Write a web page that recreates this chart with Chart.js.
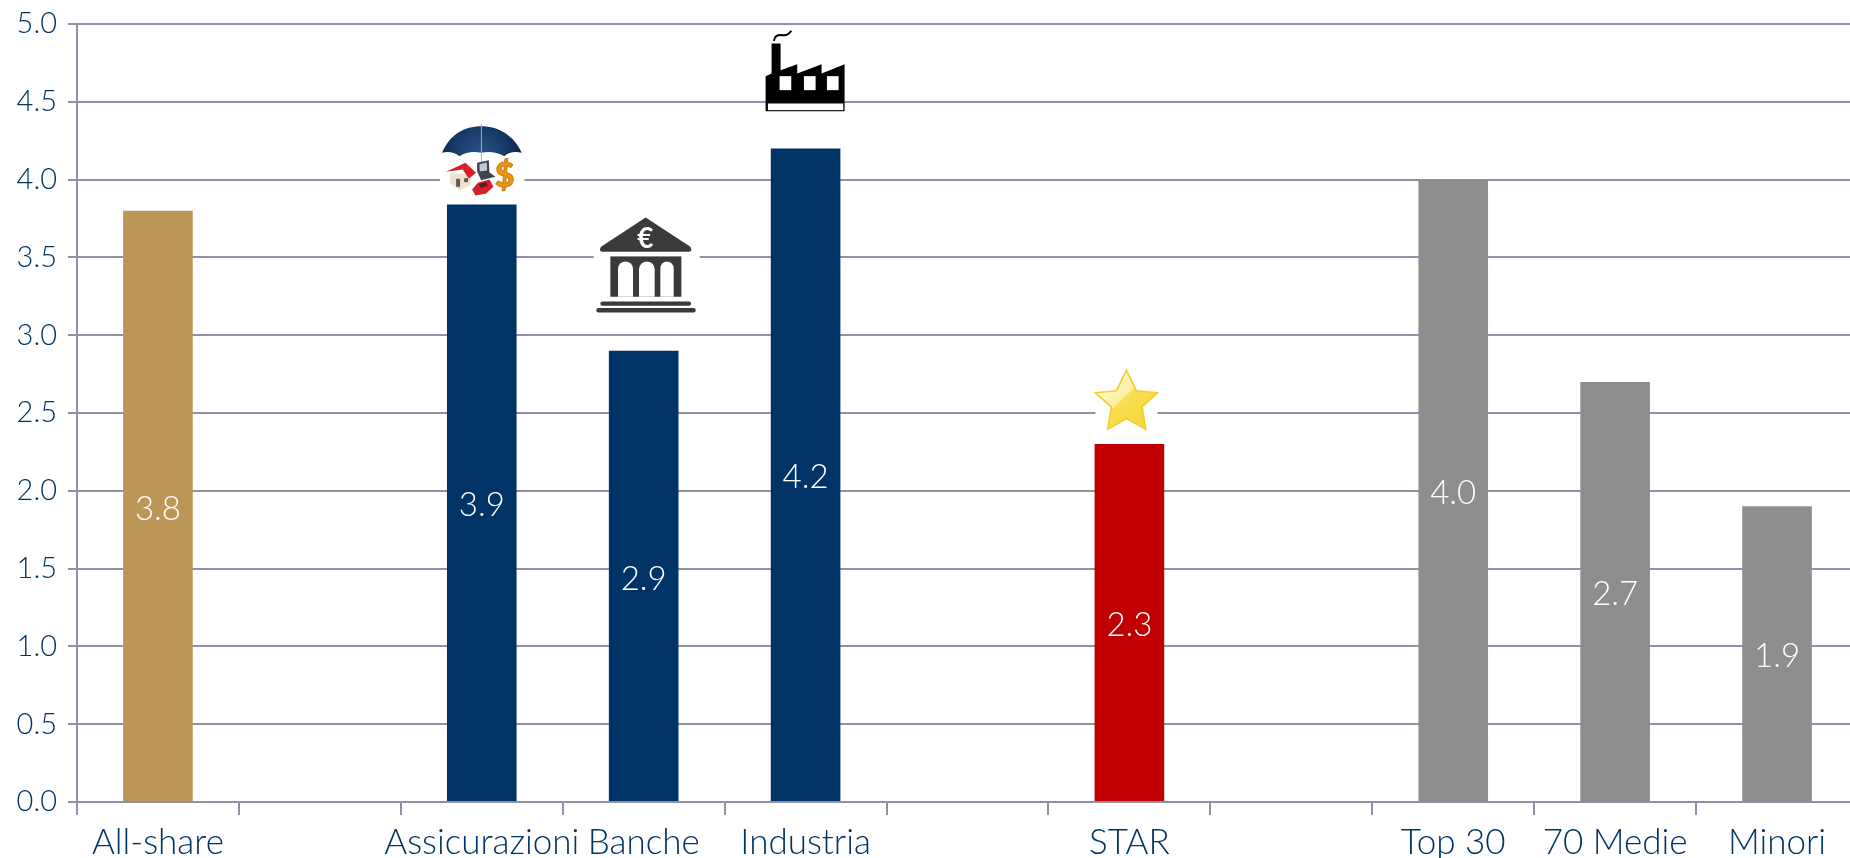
<!DOCTYPE html>
<html><head><meta charset="utf-8">
<style>html,body{margin:0;padding:0;background:#fff;overflow:hidden;width:1850px;height:858px}canvas{display:block}</style>
<script src="https://cdn.jsdelivr.net/npm/chart.js@4"></script>
</head><body><canvas id="c" width="1858" height="858" style="width:1858px;height:858px"></canvas>
<script>
const categories=['All-share','','Assicurazioni','Banche','Industria','','STAR','','Top 30','70 Medie','Minori'];
const values=[3.8,null,3.84,2.9,4.2,null,2.3,null,4.0,2.7,1.9];
const valueLabels=['3.8','','3.9','2.9','4.2','','2.3','','4.0','2.7','1.9'];
const barColors=['#BB9656','','#003366','#003366','#003366','','#C00000','','#8E8E8E','#8E8E8E','#8E8E8E'];
const icons={2:'umbrella',3:'bank',4:'factory',6:'star'};
const FONT='Lato, "Open Sans", sans-serif', TXT='#003366', GRID='#8F91A8';

function poly(c,p){c.beginPath();p.forEach((q,i)=>i?c.lineTo(q[0],q[1]):c.moveTo(q[0],q[1]));c.closePath();c.fill();}
const draw={
 umbrella(c){c.fillStyle='#fff';c.fillRect(12,3,253,238);
  const g=c.createRadialGradient(130,110,10,130,90,130);g.addColorStop(0,'#2A5285');g.addColorStop(.55,'#173A68');g.addColorStop(1,'#0C2547');
  c.fillStyle=g;c.beginPath();c.moveTo(18,100);c.bezierCurveTo(40,45,85,20,135,20);c.bezierCurveTo(190,20,235,50,257,100);
  c.quadraticCurveTo(225,92,205,110);c.quadraticCurveTo(170,92,135,100);c.quadraticCurveTo(100,92,70,110);c.quadraticCurveTo(45,92,18,100);c.fill();
  c.strokeStyle='#A9AEB5';c.lineWidth=3;c.beginPath();c.moveTo(136,15);c.lineTo(136,135);c.stroke();
  c.fillStyle='#3E454C';poly(c,[[123,130],[158,122],[160,158],[178,172],[135,182],[123,155]]);
  c.fillStyle='#BFCAD4';poly(c,[[130,134],[152,129],[153,153],[131,156]]);
  c.fillStyle='#EDE3D3';poly(c,[[42,160],[100,165],[106,195],[72,212],[42,192]]);
  c.fillStyle='#6B5A48';c.fillRect(60,178,12,24);c.fillRect(84,176,12,12);
  c.fillStyle='#D81F2A';poly(c,[[30,157],[88,130],[120,160],[98,178],[80,150]]);
  c.fillStyle='#D1202C';poly(c,[[108,210],[125,190],[160,180],[172,202],[150,222],[118,228]]);
  c.fillStyle='#4A2028';poly(c,[[128,194],[150,188],[155,197],[135,206]]);
  c.fillStyle='#E8950F';c.strokeStyle='#C87A0A';c.lineWidth=3;c.font='900 100px Lato, sans-serif';c.textAlign='center';c.textBaseline='middle';c.fillText('$',206,170);c.strokeText('$',206,170);
 },
 bank(c){c.fillStyle='#fff';c.fillRect(12,-15,318,325);c.fillStyle='#3A3A3A';
  c.beginPath();c.moveTo(168,20);c.lineTo(302,108);c.quadraticCurveTo(310,122,298,123);c.lineTo(38,123);c.quadraticCurveTo(26,122,34,108);c.closePath();c.fill();
  c.fillRect(62,137,213,121);
  c.fillStyle='#fff';[[85,130],[148,195],[212,252]].forEach(a=>{const r=(a[1]-a[0])/2;c.beginPath();c.moveTo(a[0],258);c.lineTo(a[0],152+r);c.arc(a[0]+r,152+r,r,Math.PI,0);c.lineTo(a[1],258);c.closePath();c.fill();});
  c.fillStyle='#3A3A3A';c.beginPath();c.roundRect(32,272,272,13,6);c.roundRect(20,292,298,13,6);c.fill();
  c.fillStyle='#fff';c.font='bold 84px Lato, sans-serif';c.textAlign='center';c.textBaseline='middle';c.fillText('€',167,84);
 },
 factory(c){c.fillStyle='#000';poly(c,[[1035,198],[1053,190],[1053,100],[1080,100],[1080,180],[1130,162],[1130,190],[1203,162],[1203,190],[1272,162],[1272,303],[1035,303]]);
  c.fillStyle='#fff';[1077,1150,1219].forEach(x=>c.fillRect(x,198,35,42));c.fillRect(1042,280,226,20);
  c.strokeStyle='#000';c.lineWidth=6;c.beginPath();c.moveTo(1060,92);c.quadraticCurveTo(1062,72,1085,75);c.quadraticCurveTo(1102,78,1112,62);c.stroke();
 },
 star(c){c.fillStyle='#fff';c.fillRect(105,55,186,185);
  const pts=[[198,60],[228,122],[291,128],[245,170],[256,237],[198,205],[142,237],[153,170],[105,128],[168,122]];
  const g=c.createLinearGradient(130,90,240,210);g.addColorStop(0,'#FFFBD0');g.addColorStop(.48,'#FBEFA0');g.addColorStop(.5,'#F9DF55');g.addColorStop(1,'#F7D93F');
  c.fillStyle=g;c.strokeStyle='#F2CE2E';c.lineWidth=5;c.beginPath();pts.forEach((q,i)=>i?c.lineTo(q[0],q[1]):c.moveTo(q[0],q[1]));c.closePath();c.fill();c.stroke();
 }
};
const iconOrigin={umbrella:[137,255,3],bank:[162,420,3],factory:[1155,415,3],star:[207,282,3]};

const overlay={id:'overlay',afterDatasetsDraw(ch){
 const c=ch.ctx,m=ch.getDatasetMeta(0);
 c.save();
 m.data.forEach((b,i)=>{
  if(values[i]==null)return;
  c.fillStyle='#fff';c.font='300 33px '+FONT;c.textAlign='center';c.textBaseline='middle';
  c.fillText(valueLabels[i],b.x,(b.y+b.base)/2+3);
  const k=icons[i];
  if(k){const o=iconOrigin[k];c.save();c.translate(b.x,b.y);c.scale(1/o[2],1/o[2]);c.translate(-o[0],-o[1]);draw[k](c);c.restore();}
 });
 c.restore();
}};

new Chart(document.getElementById('c'),{type:'bar',
 data:{labels:categories,datasets:[{data:values,backgroundColor:barColors,categoryPercentage:1,barPercentage:.43,borderWidth:0}]},
 plugins:[overlay],
 options:{responsive:false,animation:false,devicePixelRatio:1,
  layout:{padding:{top:24,right:0,left:0,bottom:0}},
  plugins:{legend:{display:false},tooltip:{enabled:false}},
  scales:{
   x:{offset:true,afterFit(s){s.height=56;},
      grid:{color:GRID,lineWidth:2,drawOnChartArea:false,tickLength:13,offset:true},
      border:{color:GRID,width:2},
      ticks:{color:TXT,font:{family:FONT,size:35,weight:'300'},padding:7,autoSkip:false,maxRotation:0}},
   y:{min:0,max:5,afterFit(s){s.width=77;s.paddingTop=0;s.paddingBottom=0;},
      grid:{color:GRID,lineWidth:2,tickLength:9},
      border:{color:GRID,width:2},
      ticks:{stepSize:.5,color:TXT,font:{family:FONT,size:29,weight:'300'},padding:11,callback:v=>v.toFixed(1)}}
  }}});
</script></body></html>
